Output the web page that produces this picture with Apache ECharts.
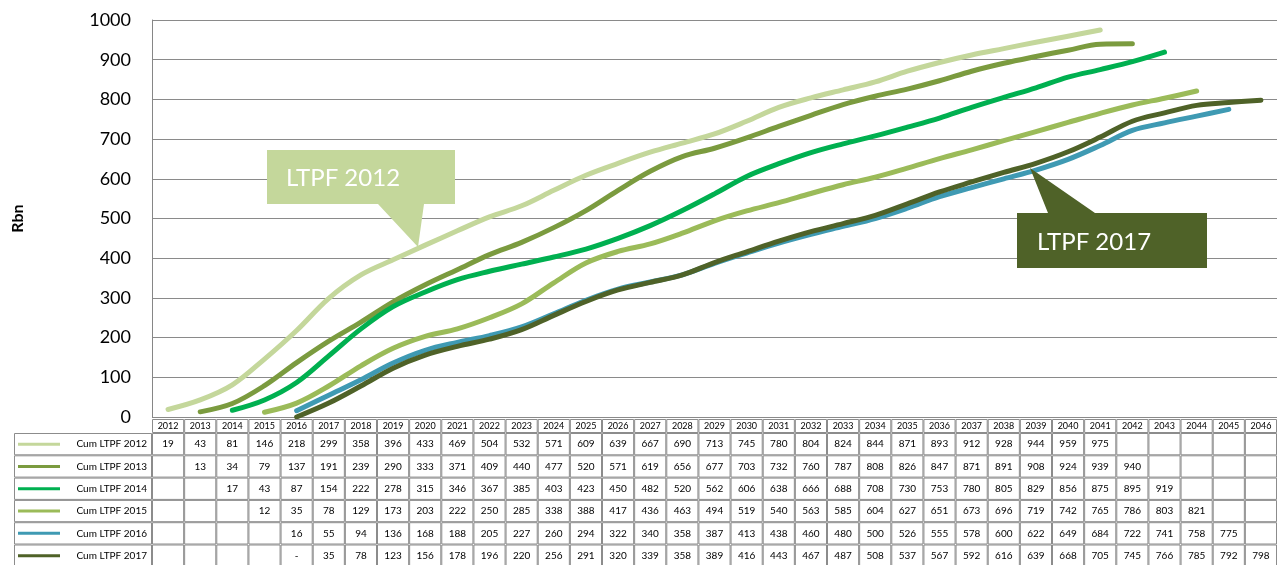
<!DOCTYPE html>
<html>
<head>
<meta charset="utf-8">
<script src="https://cdn.jsdelivr.net/npm/echarts@6/dist/echarts.min.js"></script>
<style>
  html, body { margin: 0; padding: 0; background: #ffffff; }
  #chart { width: 1277px; height: 565px; }
</style>
</head>
<body>
<div id="chart"></div>
<script>
// Years on the category axis
const years = ['2012','2013','2014','2015','2016','2017','2018','2019','2020','2021','2022','2023',
  '2024','2025','2026','2027','2028','2029','2030','2031','2032','2033','2034','2035','2036',
  '2037','2038','2039','2040','2041','2042','2043','2044','2045','2046'];

// Cumulative values (Rbn) per plan; null where a plan has no figure
const cum2012 = [19,43,81,146,218,299,358,396,433,469,504,532,571,609,639,667,690,713,745,780,804,824,844,871,893,912,928,944,959,975,null,null,null,null,null];
const cum2013 = [null,13,34,79,137,191,239,290,333,371,409,440,477,520,571,619,656,677,703,732,760,787,808,826,847,871,891,908,924,939,940,null,null,null,null];
const cum2014 = [null,null,17,43,87,154,222,278,315,346,367,385,403,423,450,482,520,562,606,638,666,688,708,730,753,780,805,829,856,875,895,919,null,null,null];
const cum2015 = [null,null,null,12,35,78,129,173,203,222,250,285,338,388,417,436,463,494,519,540,563,585,604,627,651,673,696,719,742,765,786,803,821,null,null];
const cum2016 = [null,null,null,null,16,55,94,136,168,188,205,227,260,294,322,340,358,387,413,438,460,480,500,526,555,578,600,622,649,684,722,741,758,775,null];
const cum2017 = [null,null,null,null,0,35,78,123,156,178,196,220,256,291,320,339,358,389,416,443,467,487,508,537,567,592,616,639,668,705,745,766,785,792,798];

const seriesNames = ['Cum LTPF 2012','Cum LTPF 2013','Cum LTPF 2014','Cum LTPF 2015','Cum LTPF 2016','Cum LTPF 2017'];
const seriesData = [cum2012, cum2013, cum2014, cum2015, cum2016, cum2017];
const seriesColors = ['#c4d79b','#7b9b3f','#00b050','#9bbb59','#3f9ab3','#4f6228'];

const FONT = 'Lato, "Open Sans", sans-serif';

const chart = echarts.init(document.getElementById('chart'), null, { renderer: 'canvas' });

chart.setOption({
  animation: false,
  backgroundColor: '#ffffff',
  grid: { left: 152, right: 0, top: 20, bottom: 148, containLabel: false },
  xAxis: {
    type: 'category',
    data: years,
    boundaryGap: true,
    axisLine: { show: false },
    axisTick: { show: false },
    axisLabel: { show: false },
    splitLine: { show: false }
  },
  yAxis: {
    type: 'value',
    min: 0, max: 1000, interval: 100,
    name: 'Rbn',
    nameLocation: 'middle',
    nameRotate: 90,
    nameGap: 126,
    nameTextStyle: { fontFamily: FONT, fontSize: 16, fontWeight: 'bold', color: '#000' },
    axisLine: { show: true, lineStyle: { color: '#868686', width: 1 } },
    axisTick: { show: false },
    axisLabel: { margin: 21, fontFamily: FONT, fontSize: 18, color: '#000',
      formatter: v => String(v) },
    splitLine: { show: true, lineStyle: { color: '#8a8a8a', width: 1.2 } }
  },
  series: seriesNames.map((n, i) => ({
    name: n,
    type: 'line',
    data: seriesData[i],
    smooth: 0.35,
    symbol: 'none',
    connectNulls: false,
    lineStyle: { color: seriesColors[i], width: 5, cap: 'round', join: 'round' }
  }))
});

// Data table under the plot, laid out on the category axis positions
function buildTable() {
  const xa = chart.convertToPixel({ xAxisIndex: 0 }, years[0]);
  const xb = chart.convertToPixel({ xAxisIndex: 0 }, years[1]);
  const cw = xb - xa;
  const colLeft = xa - cw / 2;
  const headTop = 419, headH = 14;
  const rowTop = 433, rowH = 22.3;
  const legLeft = 14;
  const border = '#8c8c8c';
  const els = [];

  const cell = (x, y, w, h) => ({
    type: 'rect', silent: true,
    shape: { x: x + 0.5, y: y + 0.5, width: w - 1, height: h - 1 },
    style: { fill: '#ffffff', stroke: border, lineWidth: 1 }
  });
  const label = (x, y, t, size, align) => ({
    type: 'text', silent: true,
    style: { x: x, y: y, text: t, fontFamily: FONT, fontSize: size, fill: '#000',
      align: align || 'center', verticalAlign: 'middle' }
  });

  // year header
  years.forEach((y, i) => {
    const x = colLeft + i * cw;
    els.push(cell(x, headTop, cw, headH));
    els.push(label(x + cw / 2, headTop + headH / 2 + 0.5, y, 9));
  });

  // data rows
  seriesNames.forEach((n, r) => {
    const y = rowTop + r * rowH;
    els.push(cell(legLeft, y, colLeft - legLeft, rowH));
    els.push({
      type: 'line', silent: true,
      shape: { x1: legLeft + 4, y1: y + rowH / 2, x2: legLeft + 46, y2: y + rowH / 2 },
      style: { stroke: seriesColors[r], lineWidth: 3 }
    });
    els.push(label(colLeft - 5, y + rowH / 2, n, 10, 'right'));
    years.forEach((yr, i) => {
      const x = colLeft + i * cw;
      els.push(cell(x, y, cw, rowH));
      const v = seriesData[r][i];
      if (v !== null && v !== undefined) {
        els.push(label(x + cw / 2, y + rowH / 2, v === 0 ? '-' : String(v), 10));
      }
    });
  });

  // callouts naming the first and last plans
  els.push({
    type: 'polygon', silent: true,
    shape: { points: [[267,150],[455,150],[455,204],[424,204],[418,247],[378,204],[267,204]] },
    style: { fill: '#c4d79b' }
  });
  els.push({
    type: 'text', silent: true,
    style: { x: 286, y: 178, text: 'LTPF 2012', fontFamily: FONT, fontSize: 24, fill: '#ffffff',
      align: 'left', verticalAlign: 'middle' }
  });
  els.push({
    type: 'polygon', silent: true,
    shape: { points: [[1017,213],[1048,213],[1030,168],[1095,213],[1207,213],[1207,268],[1017,268]] },
    style: { fill: '#4f6228' }
  });
  els.push({
    type: 'text', silent: true,
    style: { x: 1037, y: 242, text: 'LTPF 2017', fontFamily: FONT, fontSize: 24, fill: '#ffffff',
      align: 'left', verticalAlign: 'middle' }
  });

  chart.setOption({ graphic: els.map(e => Object.assign({ z: 100 }, e)) });
}
buildTable();
</script>
</body>
</html>
